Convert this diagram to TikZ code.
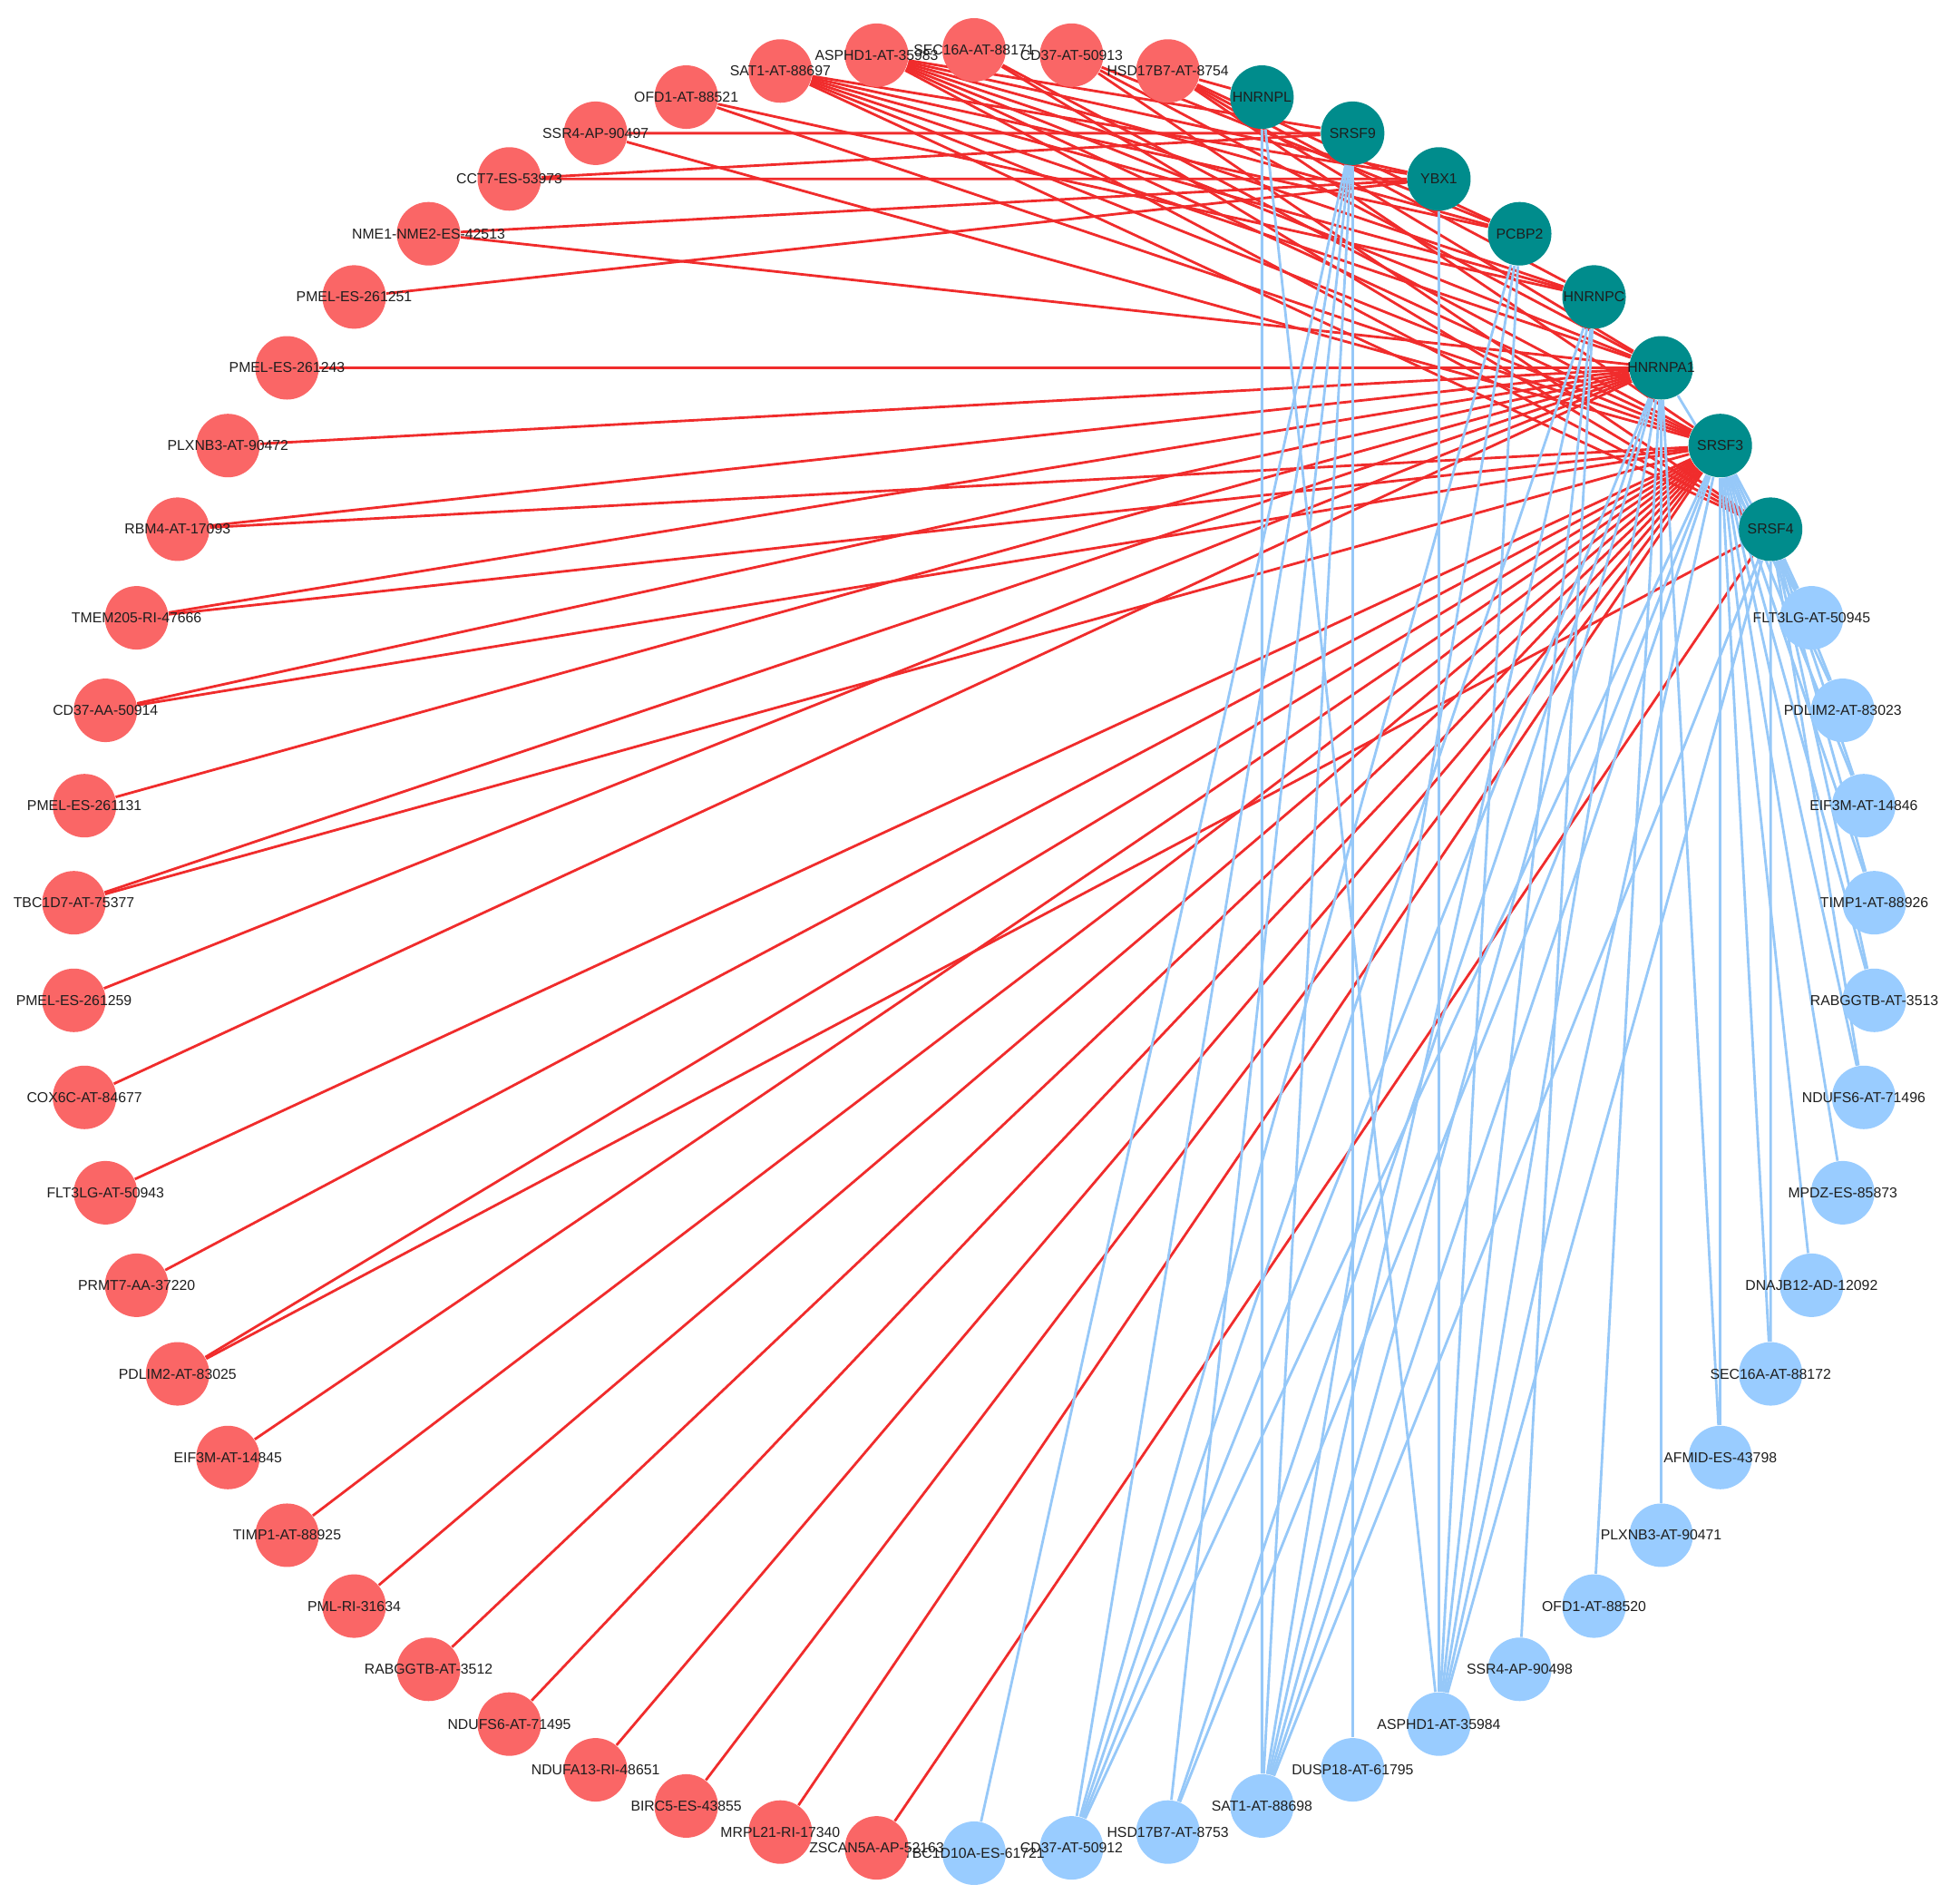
\documentclass[tikz,border=0pt]{standalone}
\usepackage{fontspec}
\setsansfont{Liberation Sans}
\usetikzlibrary{backgrounds}

\definecolor{upfill}{RGB}{250,102,102}
\definecolor{downfill}{RGB}{153,204,255}
\definecolor{sfteal}{RGB}{0,140,140}
\definecolor{upline}{RGB}{240,44,44}
\definecolor{downline}{RGB}{150,200,248}
\definecolor{tagtext}{RGB}{30,30,30}

\begin{document}
\begin{tikzpicture}[
    gene/.style={circle, minimum size=0.70cm, inner sep=0pt},
    upev/.style={gene, fill=upfill},
    downev/.style={gene, fill=downfill},
    sfac/.style={gene, fill=sfteal},
    tag/.style={font=\sffamily\fontsize{4.5}{5}\selectfont, text=tagtext, inner sep=0pt},
    uplink/.style={draw=upline, line width=0.8pt},
    downlink/.style={draw=downline, line width=0.8pt}
  ]
  \useasboundingbox (0,0) rectangle (21.5,20.98);
  \begin{scope}[shift={(10.74,10.49)}]
    % splicing factors
    \foreach \g/\lbl [count=\k from 3] in {hnrnpl/HNRNPL, srsf9/SRSF9, ybx1/YBX1, pcbp2/PCBP2,
        hnrnpc/HNRNPC, hnrnpa1/HNRNPA1, srsf3/SRSF3, srsf4/SRSF4}
      \node[sfac, label={[tag]center:\lbl}] (\g) at (90-\k*6.206897:9.94) {};

    % events, blue side
    \foreach \lbl [count=\k from 11] in {FLT3LG-AT-50945, PDLIM2-AT-83023, EIF3M-AT-14846,
        TIMP1-AT-88926, RABGGTB-AT-3513, NDUFS6-AT-71496, MPDZ-ES-85873, DNAJB12-AD-12092,
        SEC16A-AT-88172, AFMID-ES-43798, PLXNB3-AT-90471, OFD1-AT-88520, SSR4-AP-90498,
        ASPHD1-AT-35984, DUSP18-AT-61795, SAT1-AT-88698, HSD17B7-AT-8753, CD37-AT-50912,
        TBC1D10A-ES-61721}
      \node[downev, label={[tag]center:\lbl}] (b\k) at (90-\k*6.206897:9.94) {};

    % events, red side
    \foreach \lbl [count=\k from 30] in {ZSCAN5A-AP-52163, MRPL21-RI-17340, BIRC5-ES-43855,
        NDUFA13-RI-48651, NDUFS6-AT-71495, RABGGTB-AT-3512, PML-RI-31634, TIMP1-AT-88925,
        EIF3M-AT-14845, PDLIM2-AT-83025, PRMT7-AA-37220, FLT3LG-AT-50943, COX6C-AT-84677,
        PMEL-ES-261259, TBC1D7-AT-75377, PMEL-ES-261131, CD37-AA-50914, TMEM205-RI-47666,
        RBM4-AT-17093, PLXNB3-AT-90472, PMEL-ES-261243, PMEL-ES-261251, NME1-NME2-ES-42513,
        CCT7-ES-53973, SSR4-AP-90497, OFD1-AT-88521, SAT1-AT-88697, ASPHD1-AT-35983,
        SEC16A-AT-88171, CD37-AT-50913, HSD17B7-AT-8754}
      \node[upev, label={[tag]center:\lbl}] (r\k) at (90-\k*6.206897:9.94) {};
  \end{scope}

  \begin{scope}[on background layer]
    \foreach \s/\ts in {r58/{srsf3,srsf4}, r59/{pcbp2,hnrnpa1,srsf4},
        r60/{hnrnpl,pcbp2,hnrnpc,hnrnpa1,srsf3},
        r57/{srsf9,ybx1,pcbp2,hnrnpc,hnrnpa1,srsf3,srsf4},
        r56/{ybx1,pcbp2,hnrnpc,hnrnpa1,srsf3,srsf4},
        r55/{hnrnpc,srsf3}, r54/{srsf9,srsf3}, r53/{srsf9,ybx1}, r52/{ybx1,hnrnpa1},
        r51/ybx1, r50/hnrnpa1, r49/hnrnpa1, r48/{hnrnpa1,srsf3}, r47/{hnrnpa1,srsf3},
        r46/{hnrnpa1,srsf3}, r45/hnrnpa1, r44/{hnrnpa1,srsf3}, r43/hnrnpa1, r42/hnrnpa1,
        r41/srsf3, r40/srsf3, r39/{srsf3,srsf4}, r38/srsf3, r37/srsf3, r36/srsf3,
        r35/srsf3, r34/srsf3, r33/srsf3, r32/srsf3, r31/srsf3, r30/srsf4}
      \foreach \t in \ts
        \draw[uplink] (\s) -- (\t);

    \foreach \s/\ts in {b11/{srsf4,srsf3,hnrnpa1}, b12/{srsf4,srsf3}, b13/{srsf4,srsf3},
        b14/{srsf4,srsf3}, b15/{srsf4,srsf3}, b16/{srsf4,srsf3}, b17/srsf3, b18/srsf3,
        b19/{srsf4,srsf3}, b20/{srsf3,hnrnpa1}, b21/hnrnpa1, b22/hnrnpa1, b23/hnrnpc,
        b24/{hnrnpl,ybx1,pcbp2,hnrnpc,hnrnpa1,srsf3,srsf4}, b25/srsf9,
        b26/{hnrnpl,srsf9,pcbp2,hnrnpc,hnrnpa1,srsf3,srsf4},
        b27/{srsf9,hnrnpa1,srsf3}, b28/{srsf9,pcbp2,hnrnpc,hnrnpa1,srsf3}, b29/srsf9}
      \foreach \t in \ts
        \draw[downlink] (\s) -- (\t);
  \end{scope}
\end{tikzpicture}
\end{document}
